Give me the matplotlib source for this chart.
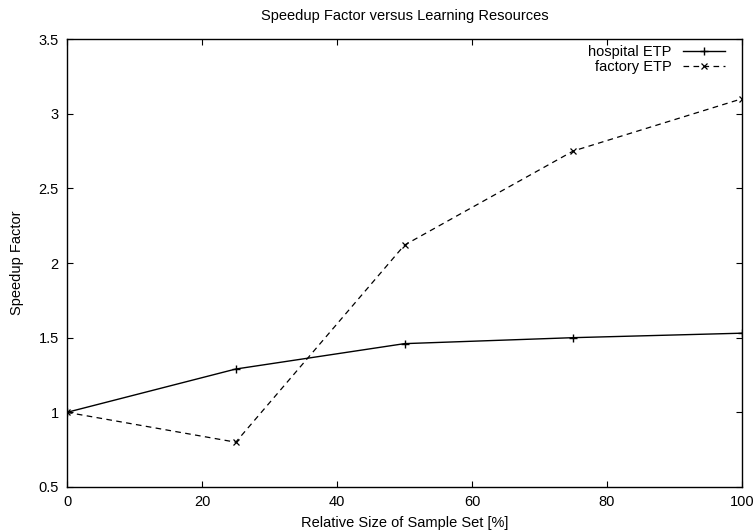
import matplotlib
matplotlib.use('Agg')
import matplotlib.pyplot as plt

# data
sample_size = [0, 25, 50, 75, 100]
hospital_etp = [1.0, 1.29, 1.46, 1.50, 1.53]
factory_etp = [1.0, 0.80, 2.12, 2.75, 3.10]

plt.rcParams['font.family'] = ['Liberation Sans', 'DejaVu Sans']
plt.rcParams['font.size'] = 10.5

fig = plt.figure(figsize=(7.54, 5.31), dpi=100)
ax = fig.add_axes([67 / 754, 1 - 487 / 531, (742 - 67) / 754, (487 - 39) / 531])

ax.plot(sample_size, hospital_etp, color='black', lw=1.0, marker='+', ms=6,
        mew=1.0, label='hospital ETP')
ax.plot(sample_size, factory_etp, color='black', lw=0.9, ls=(0, (4.5, 3.5)),
        marker='x', ms=4.5, mew=0.9, label='factory ETP')

ax.set_xlim(0, 100)
ax.set_ylim(0.5, 3.5)
ax.set_xticks(range(0, 101, 20))
ax.set_yticks([0.5, 1, 1.5, 2, 2.5, 3, 3.5])
ax.set_yticklabels(['0.5', '1', '1.5', '2', '2.5', '3', '3.5'])
ax.tick_params(direction='in', top=True, right=True, length=4.5, width=0.8,
               pad=6)
for s in ax.spines.values():
    s.set_linewidth(1.0)

ax.set_title('Speedup Factor versus Learning Resources', fontsize=10.5, pad=14)
ax.set_xlabel('Relative Size of Sample Set [%]', labelpad=5)
ax.set_ylabel('Speedup Factor', labelpad=10)

ax.legend(loc='upper right', bbox_to_anchor=(1 - 17 / 675, 1 - 6 / 448),
          frameon=False, markerfirst=False, borderpad=0, borderaxespad=0,
          handlelength=2.9, handletextpad=0.75, labelspacing=0.05,
          fontsize=10.5)

fig.savefig('out.png', dpi=100)
